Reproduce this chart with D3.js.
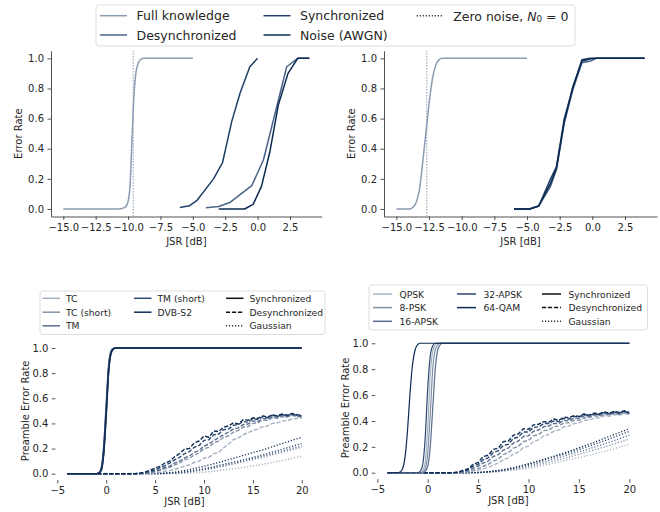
<!DOCTYPE html>
<html>
<head>
<meta charset="utf-8">
<script src="https://cdn.jsdelivr.net/npm/d3@7"></script>
<style>
  body { margin: 0; background: #fff; }
  text { font-family: "DejaVu Sans", sans-serif; fill: #262626; }
</style>
</head>
<body>
<svg id="chart" width="660" height="512"></svg>
<script>
// ---------- shared ticks ----------
const rateTicks = [0, 0.2, 0.4, 0.6, 0.8, 1.0];
const topXTicks = [-15, -12.5, -10, -7.5, -5, -2.5, 0, 2.5];
const bottomXTicks = [-5, 0, 5, 10, 15, 20];

// ---------- top panels ----------
const topSeries = ["Full knowledge", "Desynchronized", "Synchronized", "Noise (AWGN)"];
const topColors = ["#8a9bb2", "#4a6488", "#1f3f69", "#0b2a52"];

// top left
const fullKnowLX = [-15, -10.75, -10.5, -10.25, -10, -9.85, -9.7, -9.55, -9.4, -9.2, -9, -8.75, -5];
const fullKnowLY = [0, 0, 0.003, 0.01, 0.05, 0.15, 0.45, 0.75, 0.9, 0.97, 0.995, 1, 1];
const desyncLX = [-4, -3, -2.1, -0.45, 0.45, 2.25, 3.1, 4];
const desyncLY = [0.008, 0.016, 0.045, 0.155, 0.325, 0.944, 1, 1];
const syncLX = [-6, -5.25, -4.7, -3.4, -2.7, -2.0, -1.35, -0.6, 0];
const syncLY = [0.01, 0.022, 0.055, 0.2, 0.31, 0.58, 0.77, 0.944, 1];
const noiseLX = [-3, -1, -0.35, 0.3, 0.95, 1.6, 2.35, 3.1, 4];
const noiseLY = [0, 0, 0.03, 0.15, 0.38, 0.69, 0.9, 1, 1];
const zeroNoiseL = -9.6;

// top right
const fullKnowRX = [-15, -14, -13.75, -13.5, -13.25, -13, -12.75, -12.5, -12.25, -12, -11.75, -11.5, -5];
const fullKnowRY = [0, 0, 0.01, 0.04, 0.12, 0.3, 0.5, 0.7, 0.86, 0.95, 0.99, 1, 1];
const rightX = [-6, -4.8, -4.1, -3.2, -2.75, -2.15, -1.5, -0.8, -0.2, 0.3, 4];
const desyncRY = [0, 0, 0.02, 0.15, 0.26, 0.57, 0.79, 0.97, 0.98, 1, 1];
const syncRY = [0, 0, 0.02, 0.2, 0.28, 0.6, 0.8, 0.99, 1, 1, 1];
const noiseRY = [0, 0, 0.02, 0.17, 0.27, 0.58, 0.81, 0.98, 0.995, 1, 1];
const zeroNoiseR = -12.68;

// ---------- bottom panels ----------
const codesL = ["TC", "TC (short)", "TM", "TM (short)", "DVB-S2"];
const colorsL = ["#a4b1c2", "#8393a9", "#5b6f8e", "#2e4b73", "#0f2d55"];
const modsR = ["QPSK", "8-PSK", "16-APSK", "32-APSK", "64-QAM"];
const colorsR = ["#a9b5c5", "#8191a8", "#5a6e8e", "#2c4971", "#0d2b53"];

const syncXL = [-4, -1, -0.75, -0.5, -0.25, 0, 0.25, 0.5, 0.75, 1, 20];
const syncL = [
  [0, 0, 0.005, 0.04, 0.2, 0.52, 0.85, 0.97, 0.995, 1, 1],
  [0, 0, 0.004, 0.035, 0.18, 0.5, 0.84, 0.97, 0.995, 1, 1],
  [0, 0, 0.006, 0.045, 0.22, 0.55, 0.86, 0.975, 0.997, 1, 1],
  [0, 0, 0.005, 0.04, 0.19, 0.5, 0.83, 0.965, 0.995, 1, 1],
  [0, 0, 0.004, 0.03, 0.17, 0.47, 0.82, 0.96, 0.993, 1, 1]
];

const syncXR = [-4, -3, -2.75, -2.5, -2.25, -2, -1.75, -1.5, -1.25, -1, -0.75, -0.5, -0.25, 0, 0.25, 0.5, 0.75, 1, 1.25, 1.5, 20];
const syncR = [
  [0, 0, 0, 0, 0, 0, 0, 0, 0, 0, 0, 0.015, 0.08, 0.35, 0.75, 0.94, 0.99, 1, 1, 1, 1],
  [0, 0, 0, 0, 0, 0, 0, 0, 0, 0, 0, 0.005, 0.03, 0.15, 0.45, 0.8, 0.95, 0.99, 1, 1, 1],
  [0, 0, 0, 0, 0, 0, 0, 0, 0, 0, 0, 0, 0.01, 0.05, 0.2, 0.5, 0.8, 0.95, 0.99, 1, 1],
  [0, 0, 0, 0, 0, 0, 0, 0, 0, 0, 0.01, 0.06, 0.27, 0.65, 0.9, 0.98, 1, 1, 1, 1, 1],
  [0, 0, 0.005, 0.03, 0.12, 0.33, 0.62, 0.84, 0.95, 0.99, 1, 1, 1, 1, 1, 1, 1, 1, 1, 1, 1]
];

const desyncX = [-4, 2, 2.5, 3, 3.5, 4, 4.5, 5, 5.5, 6, 6.5, 7, 7.5, 8, 8.5, 9, 9.5, 10, 10.5,
  11, 11.5, 12, 12.5, 13, 13.5, 14, 14.5, 15, 15.5, 16, 16.5, 17, 17.5, 18, 18.5, 19, 19.5, 20];
const desyncL = [
  [0, 0, 0, 0, 0, 0, 0.004, 0.008, 0.012, 0.02, 0.025, 0.035, 0.045, 0.06, 0.07, 0.09, 0.1, 0.125, 0.13, 0.16, 0.17,
   0.205, 0.235, 0.27, 0.285, 0.31, 0.325, 0.345, 0.355, 0.375, 0.38, 0.4, 0.405, 0.42, 0.42, 0.435, 0.44, 0.445],
  [0, 0, 0, 0, 0, 0.004, 0.01, 0.016, 0.026, 0.04, 0.05, 0.07, 0.085, 0.11, 0.12, 0.15, 0.165, 0.2, 0.21, 0.245, 0.26,
   0.29, 0.3, 0.33, 0.345, 0.37, 0.375, 0.4, 0.405, 0.425, 0.425, 0.445, 0.44, 0.455, 0.45, 0.465, 0.455, 0.45],
  [0, 0, 0, 0, 0.002, 0.006, 0.012, 0.022, 0.032, 0.05, 0.06, 0.085, 0.1, 0.125, 0.14, 0.17, 0.185, 0.22, 0.235, 0.265, 0.285,
   0.31, 0.33, 0.355, 0.365, 0.39, 0.395, 0.42, 0.415, 0.44, 0.435, 0.455, 0.45, 0.465, 0.455, 0.47, 0.46, 0.455],
  [0, 0, 0, 0, 0.003, 0.01, 0.02, 0.03, 0.048, 0.065, 0.085, 0.11, 0.13, 0.16, 0.175, 0.21, 0.225, 0.265, 0.27, 0.31, 0.315,
   0.35, 0.355, 0.385, 0.39, 0.415, 0.41, 0.44, 0.43, 0.455, 0.445, 0.465, 0.455, 0.47, 0.46, 0.475, 0.465, 0.46],
  [0, 0, 0, 0.002, 0.006, 0.015, 0.028, 0.045, 0.058, 0.085, 0.1, 0.135, 0.16, 0.195, 0.2, 0.245, 0.26, 0.3, 0.29, 0.34, 0.335,
   0.37, 0.38, 0.405, 0.395, 0.43, 0.425, 0.445, 0.44, 0.46, 0.45, 0.47, 0.46, 0.475, 0.465, 0.48, 0.47, 0.465]
];
const desyncR = [
  [0, 0, 0, 0, 0.002, 0.005, 0.012, 0.02, 0.03, 0.04, 0.06, 0.075, 0.1, 0.115, 0.145, 0.16, 0.195, 0.205, 0.24, 0.255, 0.285,
   0.295, 0.32, 0.33, 0.355, 0.36, 0.38, 0.385, 0.405, 0.405, 0.42, 0.425, 0.44, 0.435, 0.45, 0.445, 0.455, 0.45],
  [0, 0, 0, 0, 0.005, 0.01, 0.022, 0.032, 0.05, 0.065, 0.09, 0.105, 0.14, 0.155, 0.19, 0.205, 0.24, 0.25, 0.285, 0.295, 0.325,
   0.33, 0.355, 0.36, 0.385, 0.385, 0.405, 0.405, 0.425, 0.425, 0.44, 0.435, 0.45, 0.445, 0.46, 0.45, 0.465, 0.455],
  [0, 0, 0, 0.002, 0.008, 0.018, 0.035, 0.05, 0.075, 0.09, 0.125, 0.14, 0.175, 0.19, 0.23, 0.245, 0.28, 0.285, 0.32, 0.33, 0.355,
   0.36, 0.38, 0.38, 0.405, 0.4, 0.42, 0.42, 0.44, 0.435, 0.45, 0.445, 0.46, 0.45, 0.465, 0.455, 0.47, 0.455],
  [0, 0, 0, 0.003, 0.012, 0.025, 0.05, 0.065, 0.1, 0.115, 0.155, 0.17, 0.21, 0.22, 0.265, 0.275, 0.315, 0.315, 0.35, 0.355, 0.38,
   0.38, 0.4, 0.395, 0.42, 0.415, 0.435, 0.43, 0.45, 0.44, 0.455, 0.45, 0.465, 0.455, 0.47, 0.46, 0.475, 0.46],
  [0, 0, 0, 0.005, 0.018, 0.03, 0.065, 0.08, 0.125, 0.135, 0.18, 0.19, 0.24, 0.245, 0.29, 0.3, 0.34, 0.335, 0.37, 0.375, 0.395,
   0.39, 0.415, 0.405, 0.43, 0.425, 0.44, 0.435, 0.455, 0.445, 0.46, 0.455, 0.47, 0.46, 0.475, 0.465, 0.48, 0.465]
];

const gaussX = [-4, 4, 6, 8, 10, 12, 14, 16, 18, 20];
const gaussL = [
  [0, 0, 0, 0.004, 0.012, 0.03, 0.05, 0.075, 0.105, 0.14],
  [0, 0, 0.002, 0.01, 0.03, 0.06, 0.095, 0.13, 0.17, 0.21],
  [0, 0, 0.002, 0.012, 0.035, 0.065, 0.1, 0.14, 0.18, 0.22],
  [0, 0, 0.003, 0.015, 0.04, 0.075, 0.11, 0.15, 0.195, 0.24],
  [0, 0, 0.005, 0.025, 0.06, 0.1, 0.145, 0.19, 0.24, 0.29]
];
const gaussR = [
  [0, 0, 0.003, 0.015, 0.035, 0.065, 0.1, 0.135, 0.175, 0.22],
  [0, 0, 0.004, 0.02, 0.045, 0.08, 0.12, 0.165, 0.21, 0.26],
  [0, 0, 0.006, 0.025, 0.055, 0.095, 0.14, 0.185, 0.235, 0.29],
  [0, 0, 0.008, 0.03, 0.065, 0.11, 0.155, 0.205, 0.26, 0.32],
  [0, 0, 0.008, 0.03, 0.07, 0.115, 0.165, 0.22, 0.28, 0.34]
];

// ---------- drawing ----------
const svg = d3.select("#chart");
const ink = "#262626";
const DASH = "4.2,1.8";
const DOT = "1.2,1.8";

function makePanel(box, xDomain, xTicks, xFmt, xLabelY, yLabelX, yLabel, spines) {
  const x = d3.scaleLinear().domain(xDomain).range([box.left, box.right]);
  const y = d3.scaleLinear().domain([-0.05, 1.05]).range([box.bottom, box.top]);
  const g = svg.append("g");

  const xAxis = g.append("g")
    .attr("transform", `translate(0,${box.bottom})`)
    .call(d3.axisBottom(x).tickValues(xTicks).tickFormat(xFmt)
      .tickSize(3.5).tickPadding(3.5).tickSizeOuter(0));
  const yAxis = g.append("g")
    .attr("transform", `translate(${box.left},0)`)
    .call(d3.axisLeft(y).tickValues(rateTicks).tickFormat(d3.format(".1f"))
      .tickSize(3.5).tickPadding(3.5).tickSizeOuter(0));

  [xAxis, yAxis].forEach((a) => {
    a.attr("font-size", 10);
    a.selectAll(".tick line").attr("stroke", ink).attr("stroke-width", 0.8);
    a.select(".domain").attr("stroke", ink).attr("stroke-width", 0.8)
      .style("display", spines ? null : "none");
  });

  g.append("text")
    .attr("x", (box.left + box.right) / 2)
    .attr("y", xLabelY)
    .attr("text-anchor", "middle")
    .attr("dominant-baseline", "central")
    .style("font-size", "10px")
    .text("JSR [dB]");
  g.append("text")
    .attr("transform", `translate(${yLabelX},${(box.top + box.bottom) / 2}) rotate(-90)`)
    .attr("text-anchor", "middle")
    .attr("dominant-baseline", "central")
    .style("font-size", "10px")
    .text(yLabel);

  const lines = g.append("g");
  return { x, y, g: lines };
}

function plotLine(p, xs, ys, color, opts = {}) {
  const line = d3.line()
    .x((d) => p.x(d[0]))
    .y((d) => p.y(d[1]))
    .curve(opts.curve || d3.curveLinear);
  p.g.append("path")
    .attr("d", line(d3.zip(xs, ys)))
    .attr("fill", "none")
    .attr("stroke", color)
    .attr("stroke-width", opts.width || 1.5)
    .attr("stroke-dasharray", opts.dash || null)
    .attr("stroke-linejoin", "round");
}

function vline(p, xv, color) {
  const [y0, y1] = p.y.range();
  p.g.append("line")
    .attr("x1", p.x(xv)).attr("x2", p.x(xv))
    .attr("y1", y0).attr("y2", y1)
    .attr("stroke", color)
    .attr("stroke-width", 1.2)
    .attr("stroke-dasharray", DOT);
}

function drawLegend(cfg, items) {
  const g = svg.append("g");
  g.append("rect")
    .attr("x", cfg.x).attr("y", cfg.y)
    .attr("width", cfg.w).attr("height", cfg.h)
    .attr("rx", 3)
    .attr("fill", "#fff").attr("fill-opacity", 0.85)
    .attr("stroke", "#d5d5d5").attr("stroke-width", 0.8);
  items.forEach((it) => {
    const hx = cfg.cols[it.col];
    const yy = cfg.rows[it.row];
    g.append("line")
      .attr("x1", hx).attr("x2", hx + cfg.handle)
      .attr("y1", yy).attr("y2", yy)
      .attr("stroke", it.color)
      .attr("stroke-width", it.width || 1.5)
      .attr("stroke-dasharray", it.dash || null);
    const t = g.append("text")
      .attr("x", hx + cfg.textOff)
      .attr("y", yy)
      .attr("dominant-baseline", "central")
      .style("font-size", cfg.font + "px");
    if (it.math) {
      t.append("tspan").text("Zero noise, ");
      t.append("tspan").attr("font-style", "italic").text("N");
      t.append("tspan").attr("dy", 3).style("font-size", (cfg.font * 0.7) + "px").text("0");
      t.append("tspan").attr("dy", -3).text(" = 0");
    } else {
      t.text(it.label);
    }
  });
}

// --- top left ---
const fmtTop = d3.format(".1f");
const pTL = makePanel({ left: 51, right: 321.7, top: 50.8, bottom: 216.5 },
  [-15.95, 4.95], topXTicks, fmtTop, 241.7, 18.3, "Error Rate", true);
vline(pTL, zeroNoiseL, topColors[0]);
plotLine(pTL, fullKnowLX, fullKnowLY, topColors[0], { curve: d3.curveMonotoneX });
plotLine(pTL, desyncLX, desyncLY, topColors[1]);
plotLine(pTL, syncLX, syncLY, topColors[2]);
plotLine(pTL, noiseLX, noiseLY, topColors[3]);

// --- top right ---
const pTR = makePanel({ left: 384, right: 657, top: 50.8, bottom: 216.5 },
  [-15.95, 4.95], topXTicks, fmtTop, 241.7, 351.7, "Error Rate", true);
vline(pTR, zeroNoiseR, topColors[0]);
plotLine(pTR, fullKnowRX, fullKnowRY, topColors[0], { curve: d3.curveMonotoneX });
plotLine(pTR, rightX, desyncRY, topColors[1]);
plotLine(pTR, rightX, syncRY, topColors[2]);
plotLine(pTR, rightX, noiseRY, topColors[3]);

// --- bottom panels ---
const fmtBot = d3.format("d");
function bottomPanel(box, labelY, yLabelX, colors, syncX, sync, desync, gauss, syncWidth) {
  const p = makePanel(box, [-5.2, 21.2], bottomXTicks, fmtBot, labelY, yLabelX,
    "Preamble Error Rate", false);
  colors.forEach((c, i) => plotLine(p, gaussX, gauss[i], c, { dash: DOT, width: 1.3, curve: d3.curveMonotoneX }));
  colors.forEach((c, i) => plotLine(p, desyncX, desync[i], c, { dash: DASH, width: 1.4 }));
  colors.forEach((c, i) => plotLine(p, syncX, sync[i], c, { curve: d3.curveMonotoneX, width: syncWidth }));
  return p;
}
bottomPanel({ left: 55.4, right: 313.5, top: 341.7, bottom: 480 }, 501.7, 25,
  colorsL, syncXL, syncL, desyncL, gaussL, 1.6);
bottomPanel({ left: 375.3, right: 641.4, top: 336.8, bottom: 479.2 }, 500.7, 345,
  colorsR, syncXR, syncR, desyncR, gaussR, 1.2);

// --- legends ---
drawLegend({ x: 96, y: 5, w: 479, h: 41, cols: [100, 263.5, 416.7], rows: [15.7, 35],
  handle: 27, textOff: 36.5, font: 12.5 }, [
  { label: topSeries[0], color: topColors[0], col: 0, row: 0 },
  { label: topSeries[1], color: topColors[1], col: 0, row: 1 },
  { label: topSeries[2], color: topColors[2], col: 1, row: 0 },
  { label: topSeries[3], color: topColors[3], col: 1, row: 1 },
  { math: true, color: "#333", dash: DOT, col: 2, row: 0 }
]);

const styleItems = [
  { label: "Synchronized", color: "#111", col: 2, row: 0 },
  { label: "Desynchronized", color: "#111", dash: DASH, col: 2, row: 1 },
  { label: "Gaussian", color: "#333", dash: DOT, col: 2, row: 2 }
];
function modItems(names, colors) {
  return names.map((n, i) => ({ label: n, color: colors[i], col: i < 3 ? 0 : 1, row: i < 3 ? i : i - 3 }));
}
drawLegend({ x: 40, y: 291, w: 285, h: 43.5, cols: [42.5, 134, 226], rows: [298.3, 312.2, 325.8],
  handle: 17.5, textOff: 23.5, font: 9.2 }, modItems(codesL, colorsL).concat(styleItems));
drawLegend({ x: 369, y: 285, w: 278.5, h: 45, cols: [373, 457, 542], rows: [294, 307.6, 321.3],
  handle: 19, textOff: 26.5, font: 9.2 }, modItems(modsR, colorsR).concat(styleItems));
</script>
</body>
</html>
